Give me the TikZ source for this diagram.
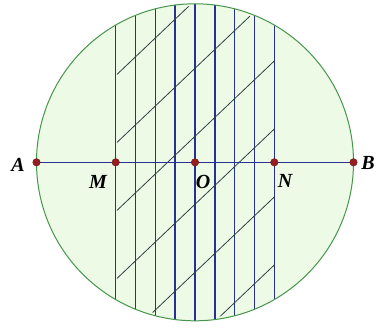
\documentclass[tikz,border=0pt]{standalone}
\usepackage{fontspec}
\setmainfont{Liberation Serif}
\usetikzlibrary{positioning}
\definecolor{circgreen}{RGB}{70,150,75}
\definecolor{discfill}{RGB}{236,250,230}
\definecolor{navy}{RGB}{40,48,150}
\definecolor{hatchgray}{RGB}{45,65,70}
\definecolor{ptred}{RGB}{150,30,30}

\begin{document}
\begin{tikzpicture}[
  x=1pt, y=1pt,
  font=\fontsize{20}{20}\selectfont\bfseries\itshape,
  disc/.style={draw=circgreen, line width=1pt},
  stripline/.style={draw=navy, line width=1.5pt},
  hatchline/.style={draw=hatchgray, line width=0.8pt},
  diam/.style={draw=navy, line width=1.4pt},
  pnt/.style={circle, fill=ptred, draw=ptred!70!black, line width=0.4pt, inner sep=0pt, minimum size=7.5pt},
  lbl/.style={inner sep=0pt}
]
\useasboundingbox (-195,-164.7) rectangle (190,162.3);
\coordinate (O) at (0,0);
\coordinate (A) at (-158.5,0);
\coordinate (M) at (-79.3,0);
\coordinate (N) at (79.3,0);
\coordinate (B) at (158.5,0);
\fill[discfill] (O) circle (158.5);
\begin{scope}
  \clip (O) circle (158.5);
  \foreach \i in {0,...,8}
    \draw[stripline] (-79.3+19.825*\i,-170) -- (-79.3+19.825*\i,170);
\end{scope}
\begin{scope}
  \clip (O) circle (156);
  \clip (-78,-170) rectangle (79.3,170);
  \foreach \k in {162,94,26,-42,-110,-178}
    \draw[hatchline] (-80,\k-76) -- (80,\k+76);
\end{scope}
\draw[diam] (A) -- (B);
\draw[disc] (O) circle (158.5);
\node[pnt] (pA) at (A) {};
\node[pnt] (pM) at (M) {};
\node[pnt] (pO) at (O) {};
\node[pnt] (pN) at (N) {};
\node[pnt] (pB) at (B) {};
\node[lbl] (lA) at (-177,-2.7) {A};
\node[lbl] (lM) at (-97,-19.4) {M};
\node[lbl] (lO) at (8,-19.4) {O};
\node[lbl] (lN) at (90,-19) {N};
\node[lbl] (lB) at (173,-0.7) {B};
\end{tikzpicture}
\end{document}
